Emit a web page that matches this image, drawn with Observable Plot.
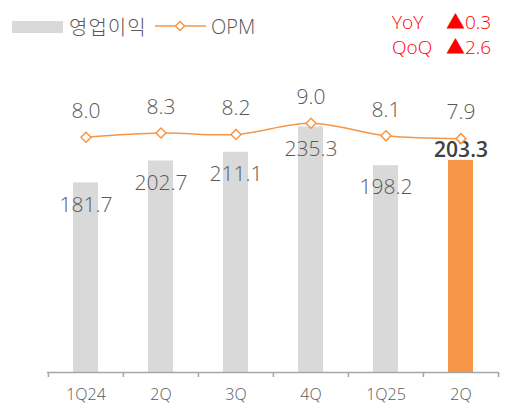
<!DOCTYPE html>
<html><head><meta charset="utf-8">
<script src="https://cdn.jsdelivr.net/npm/d3@7"></script>
<script src="https://cdn.jsdelivr.net/npm/@observablehq/plot@0.6"></script>
<style>
body{margin:0;background:#fff;}
#wrap{position:relative;width:525px;height:410px;font-family:"Open Sans","Noto Sans CJK KR",sans-serif;font-weight:350;color:#595959;}
#wrap svg{position:absolute;left:0;top:0;}
.lg{position:absolute;white-space:nowrap;line-height:20px;height:20px;}
.red{color:#FF0000;font-size:19px;}
</style></head><body><div id="wrap"></div>
<script>
const periods = ["1Q24","2Q24","3Q24","4Q24","1Q25","2Q25"];
const tickLabels = ["1Q24","2Q","3Q","4Q","1Q25","2Q"];
const opProfit = [181.7,202.7,211.1,235.3,198.2,203.3];
const opm = [8.0,8.3,8.2,9.0,8.1,7.9];
const seriesNames = ["영업이익","OPM"];
const growthLabels = ["YoY","QoQ"];
const growthValues = ["▲0.3","▲2.6"];

const rows = periods.map((p,i)=>({p, v: opProfit[i], opm: opm[i], latest: i===periods.length-1}));
const W=525, H=410, mL=47, mR=27, mT=59, mB=38;
const step = (W-mL-mR)/periods.length;
const pxPerUnit = (H-mT-mB)/300;
// secondary axis for OPM (%), mapped onto the primary y range
const opmAxis = d3.scaleLinear().domain([-8.8, 13.55]).range([0,300]);
const gray="#D9D9D9", orange="#F79646";

const chart = Plot.plot({
  width:W, height:H, marginLeft:mL, marginRight:mR, marginTop:mT, marginBottom:mB,
  style:{fontFamily:'"Open Sans","Noto Sans CJK KR",sans-serif', fontWeight:350, color:"#595959", background:"transparent"},
  x:{domain:periods, padding:0, axis:null},
  y:{domain:[0,300], axis:null},
  marks:[
    Plot.barY(rows.filter(d=>!d.latest), {x:"p", y:"v", fill:gray, insetLeft:25, insetRight:25}),
    Plot.barY(rows.filter(d=>d.latest), {x:"p", y:"v", fill:orange, insetLeft:25, insetRight:25}),
    Plot.ruleY([0], {stroke:"#A6A6A6", strokeWidth:1.5}),
    Plot.ruleX(periods, {x:d=>d, dx:-step/2, y1:0, y2:-5/pxPerUnit, stroke:"#A6A6A6", strokeWidth:1.5}),
    Plot.ruleX(periods.slice(-1), {x:d=>d, dx:step/2, y1:0, y2:-5/pxPerUnit, stroke:"#A6A6A6", strokeWidth:1.5}),
    Plot.axisX({tickSize:0, tickPadding:16, fontSize:16, fill:"#595959", label:null, tickFormat:d=>tickLabels[periods.indexOf(d)]}),
    Plot.text(rows.filter(d=>!d.latest), {x:"p", y:"v", text:d=>d.v.toFixed(1), dy:22, fontSize:21, fill:"#595959"}),
    Plot.text(rows.filter(d=>d.latest), {x:"p", y:"v", text:d=>d.v.toFixed(1), dy:-10, fontSize:21, fontWeight:600, fill:"#404040"}),
    Plot.line(rows, {x:"p", y:d=>opmAxis(d.opm), stroke:orange, strokeWidth:1.5, curve:"catmull-rom"}),
    Plot.dot(rows, {x:"p", y:d=>opmAxis(d.opm), symbol:"diamond2", r:4.5, fill:"white", stroke:orange, strokeWidth:1.5}),
    Plot.text(rows, {x:"p", y:d=>opmAxis(d.opm), text:d=>d.opm.toFixed(1), dy:-26, fontSize:21, fill:"#595959"})
  ]
});
const wrap=document.getElementById("wrap");
wrap.appendChild(chart);
wrap.insertAdjacentHTML("beforeend", `
<div class="lg" style="left:12px;top:21px;width:51px;height:12px;background:${gray}"></div>
<div class="lg" style="left:69px;top:17px;font-size:20px;letter-spacing:1px;font-weight:300;font-family:'Noto Sans CJK KR',sans-serif;">${seriesNames[0]}</div>
<svg width="60" height="20" style="position:absolute;left:152px;top:16px;overflow:visible">
<line x1="3" y1="10" x2="54" y2="10" stroke="${orange}" stroke-width="1.5"/>
<path d="M28,5.5L32.5,10L28,14.5L23.5,10Z" fill="white" stroke="${orange}" stroke-width="1.5"/></svg>
<div class="lg" style="left:211px;top:17px;font-size:20px;">${seriesNames[1]}</div>
<div class="lg red" style="left:392px;top:12px;">${growthLabels[0]}</div>
<div class="lg red" style="left:446px;top:12px;">${growthValues[0]}</div>
<div class="lg red" style="left:392px;top:37px;">${growthLabels[1]}</div>
<div class="lg red" style="left:446px;top:37px;">${growthValues[1]}</div>
`);
</script></body></html>
